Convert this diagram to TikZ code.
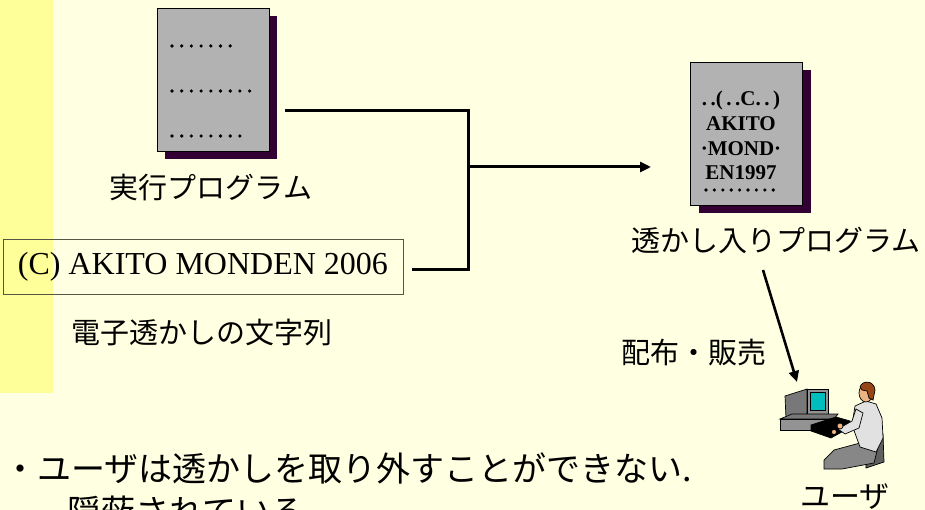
\documentclass[tikz,border=0pt]{standalone}
\usepackage{fontspec}
\setmainfont{Liberation Serif}
\newfontfamily\jpfont{Noto Sans CJK JP}
\usetikzlibrary{positioning, arrows.meta, shadows, calc}

\definecolor{bgcream}{RGB}{255,255,225}
\definecolor{stripe}{RGB}{255,255,153}
\definecolor{docgray}{RGB}{178,178,178}
\definecolor{docshade}{RGB}{51,0,51}
\definecolor{boxline}{RGB}{85,85,70}
\definecolor{screen}{RGB}{0,190,190}
\definecolor{monitorgray}{RGB}{120,120,120}
\definecolor{chairgray}{RGB}{95,95,95}
\definecolor{pantsgray}{RGB}{135,135,135}
\definecolor{shirt}{RGB}{225,225,225}
\definecolor{skin}{RGB}{235,180,130}
\definecolor{hair}{RGB}{150,70,20}

\tikzset{
  docpage/.style={draw=black, line width=0.8pt, fill=docgray, minimum width=112pt,
    minimum height=143pt, inner sep=0pt,
    drop shadow={shadow xshift=8pt, shadow yshift=-8pt, fill=docshade, opacity=1}},
  jplabel/.style={font=\jpfont\fontsize{29}{34}\selectfont, inner sep=0pt},
  link/.style={line width=3pt, draw=black},
  arrowlink/.style={link, -{Triangle[length=11pt, width=10pt]}},
}

\begin{document}
\begin{tikzpicture}[x=1pt, y=-1pt]
  \fill[bgcream] (0,0) rectangle (925,510);
  \fill[stripe] (0,0) rectangle (53,393);
  \useasboundingbox (0,0) rectangle (925,510);

  % plain program
  \node[docpage] (prog) at (213,79.5) {};
  \foreach \y/\n in {46/7, 91/9, 136/8}
    \foreach \i in {1,...,\n}
      \fill ({172+(\i-1)*9.7},\y) circle (1.8pt);
  \node[jplabel] (progcap) at (211,188) {実行プログラム};

  % watermark string
  \node[draw=boxline, line width=0.8pt, minimum width=400pt, minimum height=55pt,
    inner sep=0pt, font=\fontsize{32}{36}\selectfont] (mark) at (203,266.5)
    {(C) AKITO MONDEN 2006};
  \node[jplabel] (markcap) at (202,332) {電子透かしの文字列};

  % joining lines
  \coordinate (jtop) at (468,111);
  \coordinate (jbot) at (468,270);
  \coordinate (jmid) at (468,167);
  \coordinate (tip) at (651,167);
  \draw[link] ($(prog.east |- jtop)+(16,0)$) -- (jtop) -- (jbot)
    -- ($(mark.east |- jbot)+(9,0)$);
  \draw[arrowlink] (jmid) -- (tip);

  % watermarked program
  \node[docpage] (wmprog) at (746.5,134) {};
  \node[font=\bfseries\fontsize{21}{24.8}\selectfont, align=center, inner sep=0pt]
    (wmtext) at (741,135.5) {.\,.(\,.\,.C.\,.\,)\\AKITO\\·MOND·\\EN1997};
  \foreach \i in {1,...,9}
    \fill ({706+(\i-1)*8.4},190) circle (1.8pt);
  \node[jplabel] (wmcap) at (776,240) {透かし入りプログラム};

  % distribution
  \coordinate (shipfrom) at (763,270);
  \coordinate (shipto) at (797,382);
  \draw[arrowlink, line width=2.6pt] (shipfrom) -- (shipto);
  \node[jplabel] (salecap) at (694,353) {配布・販売};

  % user at the computer
  \begin{scope}[line width=0.7pt]
    \filldraw[fill=monitorgray] (785,396) -- (807,389) -- (807,414) -- (786,419) -- cycle;
    \filldraw[fill=monitorgray!80] (807,389) rectangle (828,414);
    \filldraw[fill=screen] (810,392) rectangle (825,410);
    \filldraw[fill=monitorgray] (780,419) -- (792,414) -- (838,414) -- (834,419) -- cycle;
    \filldraw[fill=monitorgray!80] (780,419) rectangle (834,430);
    \filldraw[fill=black] (811,425) -- (836,417) -- (850,421) -- (849,428) -- (831,438) -- (811,431) -- cycle;
    \filldraw[fill=chairgray] (865,441) -- (883,434) -- (884,462) -- (866,468) -- cycle;
    \filldraw[fill=pantsgray] (860,443) -- (834,450) -- (824,460) -- (824,469) -- (842,469)
      -- (874,463) -- (878,447) -- cycle;
    \filldraw[fill=shirt] (855,406) -- (866,401) -- (876,404) -- (882,418) -- (883,438)
      -- (876,452) -- (860,447) -- (852,425) -- cycle;
    \filldraw[fill=shirt] (856,409) -- (863,413) -- (859,428) -- (845,434) -- (838,429)
      -- (852,421) -- cycle;
    \filldraw[fill=skin] (840,426) circle (3pt);
    \filldraw[fill=skin] (834,432) circle (2.6pt);
    \filldraw[fill=skin] (866,393) ellipse (7pt and 9pt);
    \filldraw[fill=hair] (860,387) .. controls (862,380) and (874,380) .. (875,390)
      -- (873,400) -- (869,398) -- (867,391) -- (862,390) -- cycle;
  \end{scope}
  \node[jplabel, font=\jpfont\fontsize{30}{34}\selectfont] (usercap) at (845,497) {ユーザ};

  % note below
  \node[anchor=west, inner sep=0pt, font=\jpfont\fontsize{34}{40}\selectfont] (note)
    at (3,468) {・ユーザは透かしを取り外すことができない.};
  \node[anchor=west, inner sep=0pt, font=\jpfont\fontsize{34}{40}\selectfont] (note2)
    at (67,512) {隠蔽されている};
\end{tikzpicture}
\end{document}
